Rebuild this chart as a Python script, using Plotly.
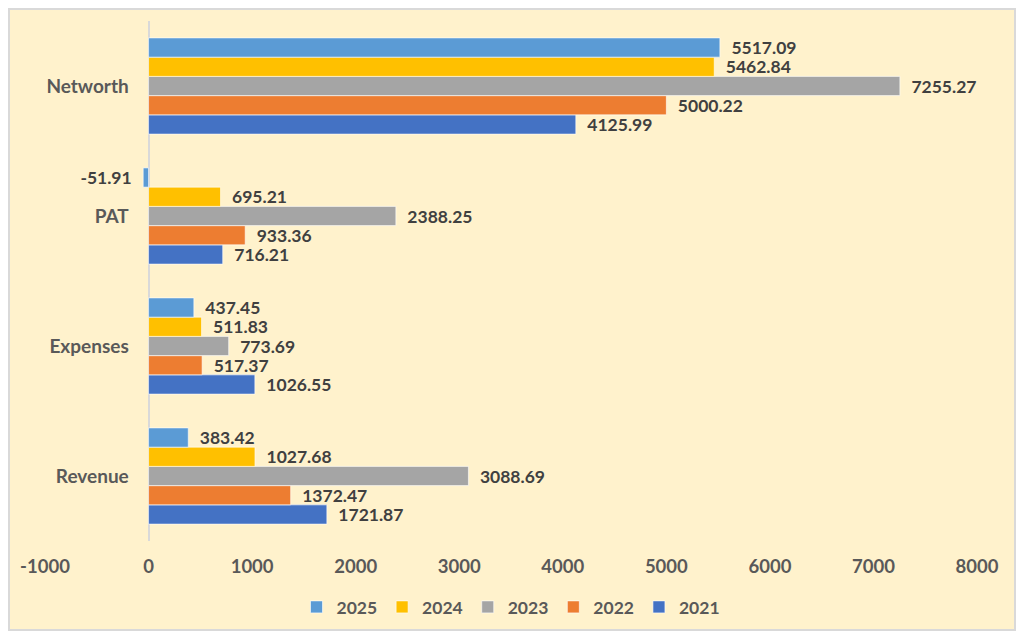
import plotly.graph_objects as go

categories = ['Revenue', 'Expenses', 'PAT', 'Networth']
years = ['2021', '2022', '2023', '2024', '2025']
values_2021 = [1721.87, 1026.55, 716.21, 4125.99]
values_2022 = [1372.47, 517.37, 933.36, 5000.22]
values_2023 = [3088.69, 773.69, 2388.25, 7255.27]
values_2024 = [1027.68, 511.83, 695.21, 5462.84]
values_2025 = [383.42, 437.45, -51.91, 5517.09]
x_ticks = [-1000, 0, 1000, 2000, 3000, 4000, 5000, 6000, 7000, 8000]

series = [values_2021, values_2022, values_2023, values_2024, values_2025]
colors = ['#4472C4', '#ED7D31', '#A5A5A5', '#FFC000', '#5B9BD5']

FONT = 'Lato'
nb = '\u00a0\u00a0'

# page body has an 8px margin, so the figure is sized to sit inside it
W, H = 1008, 623

fig = go.Figure()
for year, vals, col in zip(years, series, colors):
    labels = [nb + f'{v:.2f}' if v >= 0 else f'{v:.2f}' + nb for v in vals]
    fig.add_trace(go.Bar(
        y=categories, x=vals, name=year, orientation='h',
        marker=dict(color=col, line=dict(color='rgba(255,255,255,0.6)', width=1)),
        text=labels, textposition='outside', cliponaxis=False,
        constraintext='none',
        textfont=dict(family=FONT, size=17.5, color='#404040', weight='bold'),
    ))

fig.update_layout(
    width=W, height=H,
    paper_bgcolor='#FFF2CC', plot_bgcolor='#FFF2CC',
    margin=dict(l=37, r=39, t=13, b=90),
    barmode='group', bargap=0.26, bargroupgap=0,
    font=dict(family=FONT, size=16, color='#595959'),
    legend=dict(orientation='h', traceorder='reversed', x=0.5, xanchor='center',
                yref='container', y=1 - 599 / H, yanchor='middle',
                itemwidth=30,
                font=dict(family=FONT, size=17.5, color='#595959', weight='bold')),
    xaxis=dict(range=[-1000, 8000], tickvals=x_ticks, ticktext=[str(v) for v in x_ticks],
               showgrid=False, zeroline=True, zerolinecolor='#D9D9D9', zerolinewidth=1.5,
               ticklabelstandoff=12,
               tickfont=dict(family=FONT, size=18.5, color='#595959', weight='bold')),
    yaxis=dict(anchor='free', position=1000 / 9000, showgrid=False, showline=False,
               ticks='outside', ticklen=16, tickcolor='rgba(0,0,0,0)',
               tickfont=dict(family=FONT, size=19, color='#595959', weight='bold')),
    showlegend=True,
)

fig.add_shape(type='rect', xref='paper', yref='paper',
              x0=-36 / 932, x1=1 + 38 / 932, y0=-89 / 520, y1=1 + 12 / 520,
              line=dict(color='#D9D9D9', width=2), fillcolor='rgba(0,0,0,0)', layer='below')

fig.write_html('out.html')
